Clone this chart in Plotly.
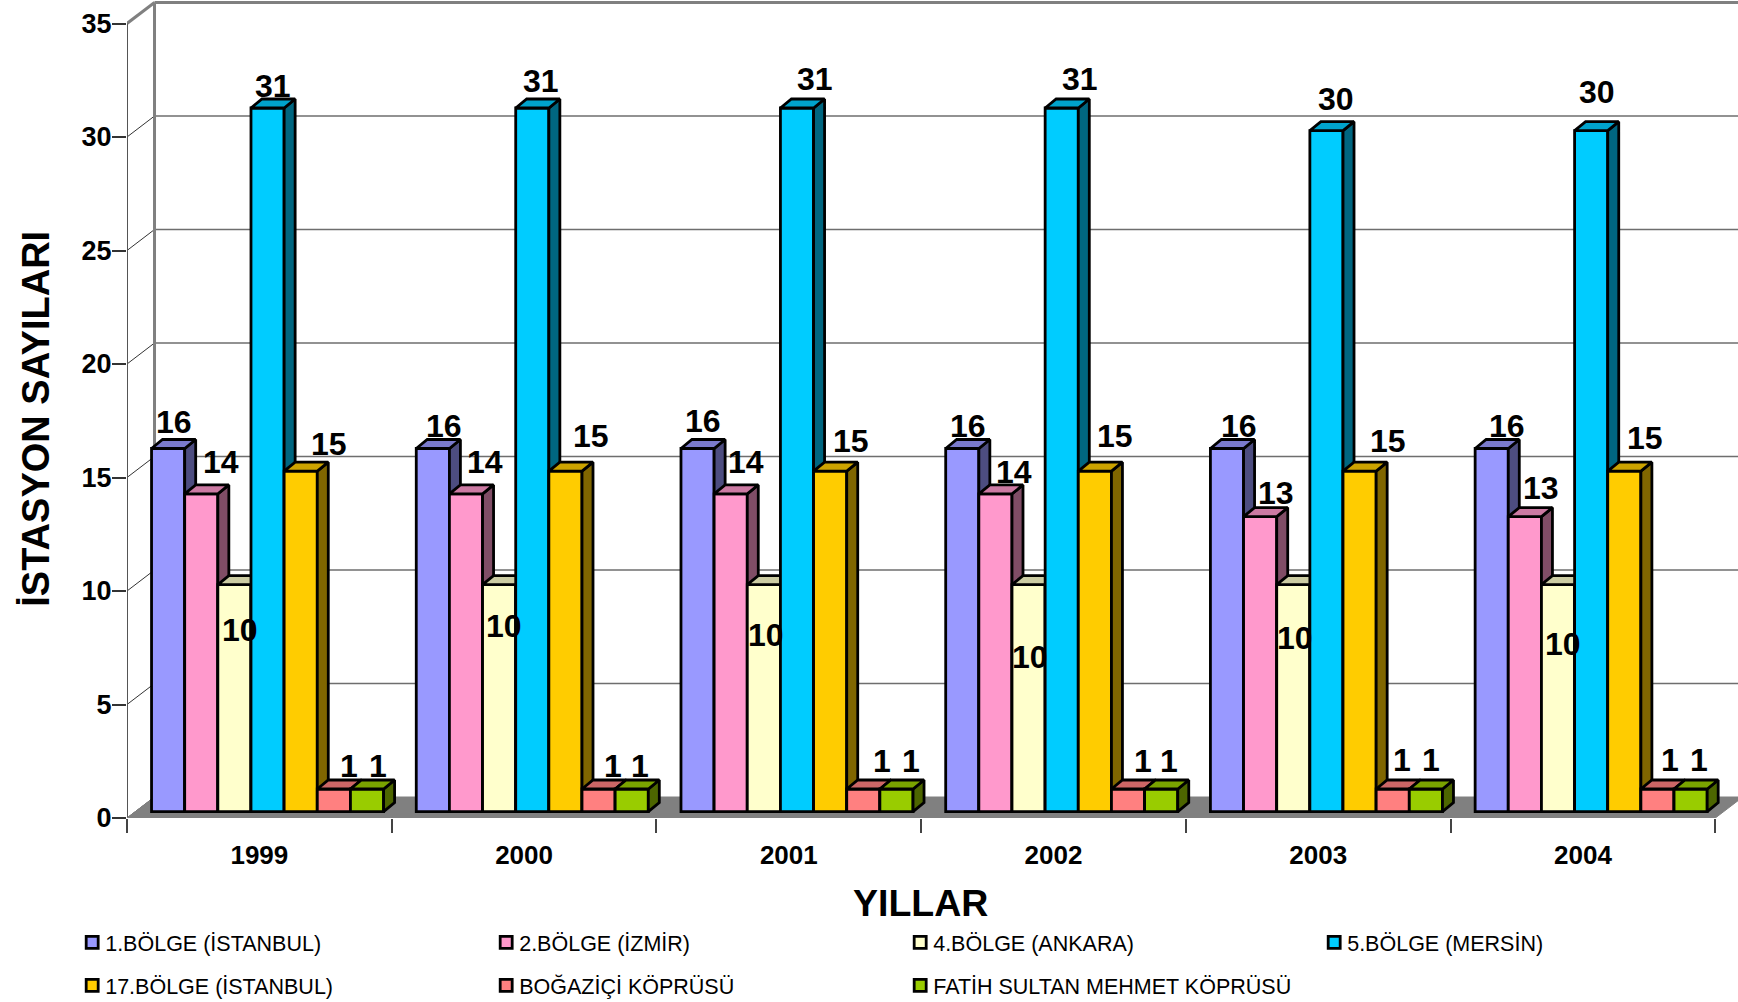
import plotly.graph_objects as go

YEARS = ["1999", "2000", "2001", "2002", "2003", "2004"]
SERIES_NAMES = ["1.BÖLGE (İSTANBUL)", "2.BÖLGE (İZMİR)", "4.BÖLGE (ANKARA)", "5.BÖLGE (MERSİN)",
                "17.BÖLGE (İSTANBUL)", "BOĞAZİÇİ KÖPRÜSÜ", "FATİH SULTAN MEHMET KÖPRÜSÜ"]
BOLGE_1 = [16, 16, 16, 16, 16, 16]
BOLGE_2 = [14, 14, 14, 14, 13, 13]
BOLGE_4 = [10, 10, 10, 10, 10, 10]
BOLGE_5 = [31, 31, 31, 31, 30, 30]
BOLGE_17 = [15, 15, 15, 15, 15, 15]
BOGAZICI = [1, 1, 1, 1, 1, 1]
FSM = [1, 1, 1, 1, 1, 1]
VALUES = [BOLGE_1, BOLGE_2, BOLGE_4, BOLGE_5, BOLGE_17, BOGAZICI, FSM]
Y_TICKS = [0, 5, 10, 15, 20, 25, 30, 35]

FRONT = ["#9999FF", "#FF99CC", "#FFFFCC", "#00CCFF", "#FFCC00", "#FF8080", "#99CC00"]
TOP = ["#7A7ACC", "#CC7AA3", "#CCCCA3", "#00A3CC", "#CCA300", "#CC6666", "#7AA300"]
SIDE = ["#4D4D80", "#804D66", "#808066", "#006680", "#806600", "#804040", "#4D6600"]

# Where the reference's (hand-placed) value labels sit, centre of text, in reference pixels
LABEL_X = [[174, 444, 703, 968, 1239, 1507], [221, 485, 746, 1014, 1276, 1541],
           [240, 504, 766, 1030, 1295, 1563], [273, 541, 815, 1080, 1336, 1597],
           [329, 591, 851, 1115, 1388, 1645], [349, 613, 882, 1143, 1402, 1670],
           [378, 640, 911, 1169, 1431, 1699]]
LABEL_Y = [[422, 426, 421, 426, 426, 426], [462, 462, 462, 472, 493, 488],
           [630, 626, 635, 657, 638, 644], [86, 81, 79, 79, 99, 92],
           [444, 436, 441, 436, 441, 438], [766, 766, 761, 761, 760, 760],
           [766, 766, 761, 761, 760, 760]]

W, H = 1738, 1002
L, B = 127.3, 184
SLOT_PX, UNIT_PX = 264.67, 22.7
WALL_DX, WALL_DY = 27.5 / SLOT_PX, 21 / UNIT_PX
BAR_DX, BAR_DY = 11 / SLOT_PX, 9 / UNIT_PX
BASE = 6.3 / UNIT_PX
SHIFT = 0.031
BAR_W = 0.8766 / 7
FONT = "Liberation Sans"
GRID = "#6E6E6E"
X_MAX = (W - L) / SLOT_PX

fig = go.Figure()


def line(xs, ys, color, width, z=-3):
    fig.add_trace(go.Scatter(x=xs, y=ys, mode="lines", line=dict(color=color, width=width),
                             showlegend=False, hoverinfo="skip", zorder=z, cliponaxis=False))


n = len(YEARS)
# Floor
fig.add_trace(go.Scatter(x=[0, n, n + WALL_DX, WALL_DX, 0], y=[0, 0, WALL_DY, WALL_DY, 0], mode="lines",
                         fill="toself", fillcolor="#808080", line=dict(color="#808080", width=1),
                         showlegend=False, hoverinfo="skip", zorder=-2))
# Walls
for v in Y_TICKS:
    if v:
        line([WALL_DX, X_MAX], [v + WALL_DY] * 2, "#808080" if v == 35 else GRID, 3 if v == 35 else 1.5)
    line([0, WALL_DX], [v, v + WALL_DY], "#808080" if v == 35 else "#333333", 3 if v == 35 else 1)
line([WALL_DX, WALL_DX], [WALL_DY, 35 + WALL_DY], "#808080", 3)
line([0, 0], [0, 35], "#555555", 2)
line([0, n], [0, 0], "#808080", 2)

for k, vals in enumerate(VALUES):
    xc = [g + 0.5 + SHIFT + (k - 3) * BAR_W for g in range(n)]
    group = "legend" if k < 4 else "legend2"
    fig.add_trace(go.Bar(x=xc, y=vals, base=[BASE] * n, width=BAR_W, name=SERIES_NAMES[k],
                         marker=dict(color=FRONT[k], line=dict(color="black", width=2.8)),
                         legend=group, zorder=k, hoverinfo="skip"))
    sx, sy, tx, ty = [], [], [], []
    for x, v in zip(xc, vals):
        xl, xr, t = x - BAR_W / 2, x + BAR_W / 2, BASE + v
        sx += [xr, xr + BAR_DX, xr + BAR_DX, xr, xr, None]
        sy += [BASE, BASE + BAR_DY, t + BAR_DY, t, BASE, None]
        tx += [xl, xl + BAR_DX, xr + BAR_DX, xr, xl, None]
        ty += [t, t + BAR_DY, t + BAR_DY, t, t, None]
    for px, py, c in ((sx, sy, SIDE[k]), (tx, ty, TOP[k])):
        fig.add_trace(go.Scatter(x=px, y=py, mode="lines", fill="toself", fillcolor=c,
                                 line=dict(color="black", width=2.8), showlegend=False,
                                 hoverinfo="skip", zorder=k))
    for g, (x, v) in enumerate(zip(xc, vals)):
        ax_px, ay_px = L + x * SLOT_PX, H - B - (BASE + v) * UNIT_PX
        fig.add_annotation(x=x, y=BASE + v, text=str(v), showarrow=False, xanchor="center", yanchor="middle",
                           xshift=LABEL_X[k][g] - ax_px, yshift=ay_px - LABEL_Y[k][g],
                           font=dict(family=FONT, size=32, color="black", weight="bold"))

fig.add_annotation(xref="paper", yref="paper", x=(36 - L) / (W - L), y=(H - B - 419) / (H - B),
                   text="İSTASYON SAYILARI", textangle=-90, showarrow=False, xanchor="center", yanchor="middle",
                   font=dict(family=FONT, size=38, color="black", weight="bold"))
fig.add_annotation(xref="paper", yref="paper", x=(921 - L) / (W - L), y=(H - B - 903) / (H - B),
                   text="YILLAR", showarrow=False, xanchor="center", yanchor="middle",
                   font=dict(family=FONT, size=37.5, color="black", weight="bold"))

legend_common = dict(orientation="h", xanchor="left", yanchor="top", entrywidth=369, entrywidthmode="pixels",
                     font=dict(family=FONT, size=21.5, color="black"), bgcolor="rgba(0,0,0,0)",
                     itemclick=False, itemdoubleclick=False)
fig.update_layout(
    width=W, height=H, margin=dict(l=L, r=0, t=0, b=B, autoexpand=False),
    paper_bgcolor="white", plot_bgcolor="white", barmode="overlay",
    xaxis=dict(range=[0, X_MAX], tickmode="array", tickvals=[g + 0.5 for g in range(n)], ticktext=YEARS,
               ticks="", showgrid=False, zeroline=False, showline=False, ticklabelstandoff=19,
               tickfont=dict(family=FONT, size=26, color="black", weight="bold"),
               minor=dict(tickmode="array", tickvals=list(range(n + 1)), ticks="outside", ticklen=14, tickwidth=1.5,
                          tickcolor="#444444", showgrid=False)),
    yaxis=dict(range=[0, (H - B) / UNIT_PX], tickmode="array", tickvals=Y_TICKS, ticks="outside", ticklen=14,
               tickwidth=1.5, tickcolor="#333333", showgrid=False, zeroline=False, showline=False,
               ticklabelstandoff=-5, tickfont=dict(family=FONT, size=27, color="black", weight="bold")),
    legend=dict(x=(65.5 - L) / (W - L), y=(H - B - 922) / (H - B), **legend_common),
    legend2=dict(x=(65.5 - L) / (W - L), y=(H - B - 965) / (H - B), **legend_common),
)
# The page's default body margin would push the figure 8 px down and right;
# Plotly's legend also leaves a wider swatch-to-text gap than the reference, so nudge the swatches.
POST = ("document.body.style.margin='0';document.body.style.overflow='hidden';"
        "document.querySelectorAll('.legendsymbols').forEach(function(e){e.setAttribute('transform','translate(7,0)');});")
fig.write_html("out.html", config=dict(displayModeBar=False), post_script=POST)
